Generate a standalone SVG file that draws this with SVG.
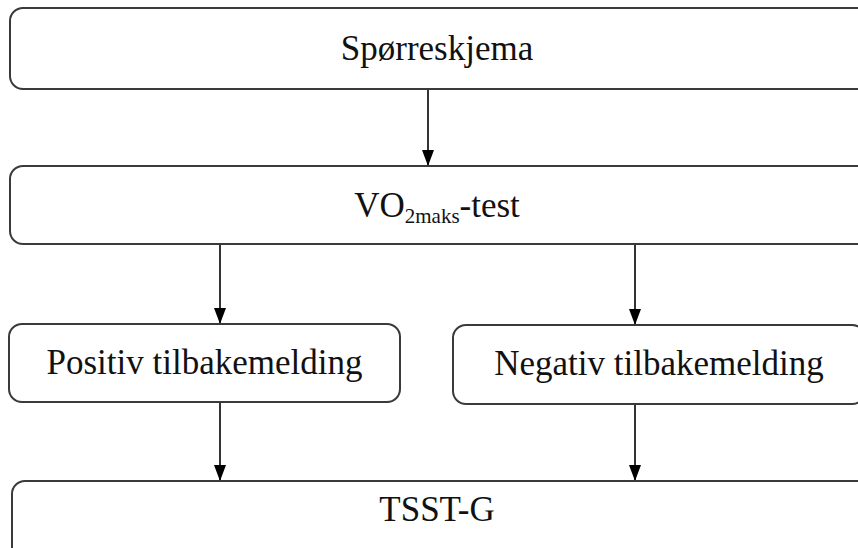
<svg xmlns="http://www.w3.org/2000/svg" width="858" height="548" viewBox="0 0 858 548">
<style>
.box{fill:#fff;stroke:#3a3a3a;stroke-width:2}
.t{font-family:"Liberation Serif","Times New Roman",serif;font-size:35px;fill:#111;text-anchor:middle}
.c{stroke:#000;stroke-width:1.6;fill:none;marker-end:url(#ah)}
</style>
<defs>
<marker id="ah" viewBox="0 0 16 12" refX="16" refY="6" markerWidth="16" markerHeight="12" markerUnits="userSpaceOnUse" orient="auto">
<path d="M0,0 L16,6 L0,12 Z" fill="#000"/>
</marker>
</defs>
<rect width="858" height="548" fill="#fff"/>
<g id="connectors">
<line class="c" x1="428" y1="89" x2="428" y2="166"/>
<line class="c" x1="220" y1="244" x2="220" y2="324"/>
<line class="c" x1="635" y1="244" x2="635" y2="325"/>
<line class="c" x1="220" y1="402" x2="220" y2="481"/>
<line class="c" x1="635" y1="404" x2="635" y2="481"/>
</g>
<g id="n1">
<rect class="box" x="10" y="8" width="880" height="81" rx="13"/>
<text class="t" x="437" y="60">Spørreskjema</text>
</g>
<g id="n2">
<rect class="box" x="10" y="166" width="880" height="78" rx="13"/>
<text class="t" x="437" y="217">VO<tspan font-size="21" dy="6">2maks</tspan><tspan dy="-6">-test</tspan></text>
</g>
<g id="n3">
<rect class="box" x="9" y="324" width="391" height="78" rx="13"/>
<text class="t" x="204.5" y="374">Positiv tilbakemelding</text>
</g>
<g id="n4">
<rect class="box" x="453" y="325" width="412" height="79" rx="13"/>
<text class="t" x="659" y="375">Negativ tilbakemelding</text>
</g>
<g id="n5">
<rect class="box" x="12" y="481" width="880" height="100" rx="13"/>
<text class="t" x="437" y="521">TSST-G</text>
</g>
</svg>
